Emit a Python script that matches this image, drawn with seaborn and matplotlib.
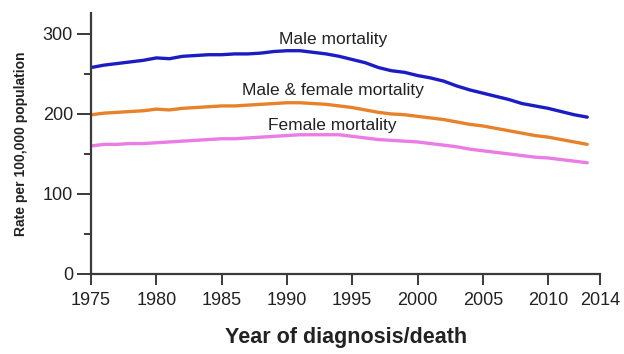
import numpy as np
import pandas as pd
import seaborn as sns
import matplotlib.pyplot as plt
from matplotlib.ticker import MultipleLocator

years = list(range(1975, 2014))

male = [258, 261, 263, 265, 267, 270, 269, 272, 273, 274,
        274, 275, 275, 276, 278, 279, 279, 277, 275, 272,
        268, 264, 258, 254, 252, 248, 245, 241, 235, 230,
        226, 222, 218, 213, 210, 207, 203, 199, 196]
both = [199, 201, 202, 203, 204, 206, 205, 207, 208, 209,
        210, 210, 211, 212, 213, 214, 214, 213, 212, 210,
        208, 205, 202, 200, 199, 197, 195, 193, 190, 187,
        185, 182, 179, 176, 173, 171, 168, 165, 162]
female = [160, 162, 162, 163, 163, 164, 165, 166, 167, 168,
          169, 169, 170, 171, 172, 173, 174, 174, 174, 174,
          172, 170, 168, 167, 166, 165, 163, 161, 159, 156,
          154, 152, 150, 148, 146, 145, 143, 141, 139]

series_names = ["Male mortality", "Male & female mortality", "Female mortality"]
xticks = [1975, 1980, 1985, 1990, 1995, 2000, 2005, 2010, 2014]

df = pd.DataFrame({
    "year": years * 3,
    "rate": male + both + female,
    "series": np.repeat(series_names, len(years)),
})

sns.set_style("white")
plt.rcParams["font.family"] = ["Liberation Sans", "DejaVu Sans"]

fig = plt.figure(figsize=(6.24, 3.54), dpi=100)
ax = fig.add_axes([0.146, 0.226, 0.816, 0.737])

palette = {"Male mortality": "#1c1cc4",
           "Male & female mortality": "#e8822a",
           "Female mortality": "#ea7ce6"}
sns.lineplot(data=df, x="year", y="rate", hue="series", palette=palette,
             linewidth=2.4, legend=False, ax=ax)

ax.set_xlim(1975, 2014)
ax.set_ylim(0, 326)
ax.set_xticks(xticks)
ax.set_yticks([0, 100, 200, 300])
ax.yaxis.set_minor_locator(MultipleLocator(50))

for s in ["top", "right"]:
    ax.spines[s].set_visible(False)
for s in ["left", "bottom"]:
    ax.spines[s].set_color("#3a3a3a")
    ax.spines[s].set_linewidth(1.6)
ax.spines["bottom"].set_bounds(1975, 2014)

ax.tick_params(axis="x", which="major", direction="out", length=8, width=1.4,
               color="#3a3a3a", labelsize=13, pad=5, bottom=True, labelcolor="#222222")
ax.tick_params(axis="y", which="major", direction="out", length=10, width=1.4,
               color="#3a3a3a", labelsize=13, pad=3, left=True, labelcolor="#222222")
ax.tick_params(axis="y", which="minor", direction="out", length=5, width=1.4,
               color="#3a3a3a", left=True)

ax.set_xlabel("Year of diagnosis/death", fontsize=15.5, fontweight="bold", labelpad=13,
              color="#222222")
ax.set_ylabel("Rate per 100,000 population", fontsize=10, fontweight="bold", labelpad=11,
              color="#222222")

ax.text(1993.5, 292.5, "Male mortality", fontsize=12.5, ha="center", va="center", color="#222222")
ax.text(1993.5, 229, "Male & female mortality", fontsize=12.5, ha="center", va="center", color="#222222")
ax.text(1993.5, 185, "Female mortality", fontsize=12.5, ha="center", va="center", color="#222222")

fig.savefig("out.png", dpi=100, facecolor="white")
